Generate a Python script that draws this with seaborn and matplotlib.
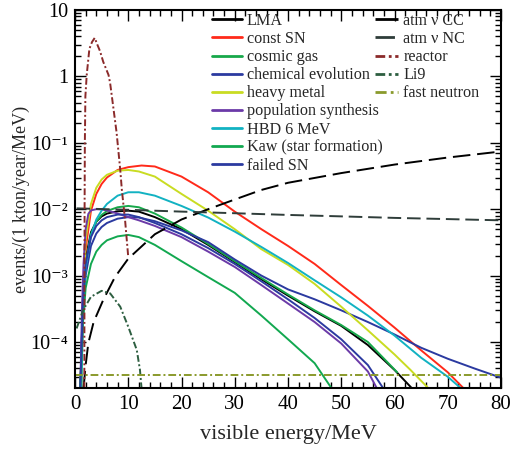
import numpy as np
import pandas as pd
import matplotlib
matplotlib.use("Agg")
import matplotlib.pyplot as plt
from matplotlib.ticker import FixedLocator, FixedFormatter, MultipleLocator, LogLocator, NullFormatter
from matplotlib.lines import Line2D
import seaborn as sns

# ---------------- data ----------------
E_lma = [1.0, 1.5, 2, 3, 4, 5, 6, 8, 10, 12, 15, 20, 25, 30, 35, 40, 45, 50, 55, 60, 63.3]
lma = [2e-5, 5e-4, 1.8e-3, 4.5e-3, 6.5e-3, 7.8e-3, 8.6e-3, 9.3e-3, 9.5e-3, 9.2e-3, 7.6e-3, 5.0e-3,
       2.9e-3, 1.6e-3, 8.8e-4, 5.0e-4, 2.9e-4, 1.75e-4, 9.0e-5, 3.8e-5, 2e-5]

E_const = [1.2, 1.5, 2, 3, 4, 5, 6, 8, 10, 12.5, 15, 20, 25, 30, 35, 40, 45, 50, 55, 60, 65, 70, 73.0]
const_sn = [2e-5, 4e-4, 2.5e-3, 9.5e-3, 1.7e-2, 2.4e-2, 3.0e-2, 3.9e-2, 4.3e-2, 4.55e-2, 4.4e-2, 3.1e-2,
            1.8e-2, 9.2e-3, 5.0e-3, 2.8e-3, 1.5e-3, 7.2e-4, 3.5e-4, 1.65e-4, 7.5e-5, 3.5e-5, 2e-5]

E_cosmic = [1.0, 1.5, 2, 3, 4, 5, 6, 8, 10, 12, 15, 20, 25, 30, 35, 40, 45, 50, 55, 60.5]
cosmic_gas = [2e-5, 4e-4, 1.5e-3, 4.2e-3, 6.5e-3, 8.2e-3, 9.4e-3, 1.07e-2, 1.12e-2, 1.07e-2, 8.6e-3,
              5.3e-3, 3.0e-3, 1.65e-3, 9.2e-4, 5.2e-4, 3.0e-4, 1.8e-4, 1.0e-4, 3.5e-5]

E_chem = [1.0, 1.5, 2, 3, 4, 5, 6, 8, 10, 12, 15, 20, 25, 30, 35, 40, 45, 50, 55, 60, 65, 70, 75, 80]
chem_evol = [2e-5, 2.5e-4, 1.0e-3, 2.8e-3, 4.3e-3, 5.4e-3, 6.2e-3, 7.2e-3, 7.6e-3, 7.5e-3, 6.6e-3,
             4.8e-3, 3.2e-3, 1.75e-3, 1.0e-3, 6.2e-4, 4.4e-4, 3.0e-4, 2.0e-4, 1.3e-4, 8.2e-5,
             5.6e-5, 4.0e-5, 2.9e-5]

E_heavy = [1.2, 1.5, 2, 3, 4, 5, 6, 8, 10, 12, 15, 20, 25, 30, 35, 40, 45, 50, 55, 60, 63, 66.4]
heavy_metal = [2e-5, 5e-4, 3.5e-3, 1.2e-2, 2.1e-2, 2.8e-2, 3.3e-2, 3.8e-2, 3.9e-2, 3.7e-2, 3.1e-2,
               1.7e-2, 9.5e-3, 5.0e-3, 2.5e-3, 1.45e-3, 7.5e-4, 3.4e-4, 1.5e-4, 6.5e-5, 3.8e-5, 2e-5]

E_pop = [1.0, 1.3, 1.6, 2.0, 2.5, 3, 4, 5, 6, 8, 10, 12, 15, 20, 25, 30, 35, 40, 45, 50, 55, 56.7]
pop_synth = [2e-5, 3e-4, 1.5e-3, 5e-3, 8.5e-3, 9.6e-3, 1.0e-2, 9.9e-3, 9.6e-3, 8.6e-3, 7.6e-3, 6.8e-3,
             5.6e-3, 3.8e-3, 2.3e-3, 1.35e-3, 7.2e-4, 3.8e-4, 2.0e-4, 9.5e-5, 3.6e-5, 2e-5]

E_hbd = [1.2, 1.5, 2, 3, 4, 5, 6, 8, 10, 12, 15, 20, 25, 30, 35, 40, 45, 50, 55, 60, 65, 70, 72.5]
hbd6 = [2e-5, 2.5e-4, 1.3e-3, 4.0e-3, 7e-3, 9.5e-3, 1.2e-2, 1.6e-2, 1.8e-2, 1.8e-2, 1.6e-2, 1.12e-2,
        7.5e-3, 4.6e-3, 2.7e-3, 1.55e-3, 8.5e-4, 4.7e-4, 2.5e-4, 1.25e-4, 5.8e-5, 3.0e-5, 2e-5]

E_kaw = [1.0, 1.5, 2, 3, 4, 5, 6, 8, 10, 12, 15, 20, 25, 30, 35, 40, 45, 48.2]
kaw = [2e-5, 2e-4, 6.5e-4, 1.5e-3, 2.3e-3, 2.9e-3, 3.4e-3, 3.9e-3, 4.1e-3, 3.8e-3, 2.9e-3, 1.65e-3,
       9.5e-4, 5.5e-4, 2.5e-4, 1.1e-4, 4.8e-5, 2e-5]

E_failed = [1.0, 1.5, 2, 3, 4, 5, 6, 8, 10, 12, 15, 20, 25, 30, 35, 40, 45, 50, 55, 57.9]
failed_sn = [2e-5, 4e-4, 1.5e-3, 3.8e-3, 5.6e-3, 6.8e-3, 7.6e-3, 8.3e-3, 8.3e-3, 7.6e-3, 6.2e-3,
             4.2e-3, 2.6e-3, 1.5e-3, 8.2e-4, 4.4e-4, 2.3e-4, 1.1e-4, 4.5e-5, 2e-5]

E_cc = [1.6, 2.0, 2.5, 3.5, 5.3, 7.5, 10, 15, 20, 25, 30, 35, 40, 50, 60, 70, 80]
atm_cc = [2e-5, 4.5e-5, 9.6e-5, 2.0e-4, 4.3e-4, 9.5e-4, 1.8e-3, 4.2e-3, 7.0e-3, 1.0e-2, 1.4e-2,
          1.95e-2, 2.5e-2, 3.5e-2, 4.7e-2, 6.0e-2, 7.4e-2]

E_nc = [0.3, 10, 20, 30, 40, 50, 60, 70, 80]
atm_nc = [1.03e-2, 9.8e-3, 9.2e-3, 8.7e-3, 8.2e-3, 7.8e-3, 7.4e-3, 7.1e-3, 6.8e-3]

E_reac = [1.75, 1.8, 1.85, 1.95, 2.2, 2.7, 3.2, 3.7, 4.2, 4.7, 5.3, 6.3, 6.6, 7.8, 8.5, 8.8, 9.4, 10.0]
reactor = [2e-5, 1e-2, 1e-1, 5e-1, 1.05, 2.6, 3.3, 3.8, 3.0, 2.4, 1.66, 1.05, 0.79, 0.145, 0.039,
           0.0195, 0.0069, 0.0019]

E_li9 = [0.3, 1.5, 3, 5, 6.6, 8.5, 10, 11.6, 12.2, 12.5]
li9 = [1.6e-4, 3.0e-4, 4.8e-4, 5.9e-4, 5.4e-4, 3.4e-4, 1.7e-4, 7.6e-5, 3.8e-5, 2e-5]

E_fast = [0, 80]
fast_neutron = [3.2e-5, 3.2e-5]

ytick_vals = [1e-4, 1e-3, 1e-2, 1e-1, 1, 10]
ytick_labels = ["10⁻⁴", "10⁻³", "10⁻²", "10⁻¹", "1", "10"]

# ---------------- style ----------------
sns.set_style("ticks")
plt.rcParams["font.family"] = ["Liberation Serif", "DejaVu Serif"]
plt.rcParams["mathtext.fontset"] = "stix"

fig = plt.figure(figsize=(5.13, 4.49), dpi=100)
ax = fig.add_axes([75 / 513, 1 - 388 / 449, (501 - 75) / 513, (388 - 10) / 449])

signal = [
    ("LMA", E_lma, lma, "#000000"),
    ("const SN", E_const, const_sn, "#ff2a1a"),
    ("cosmic gas", E_cosmic, cosmic_gas, "#17a84a"),
    ("chemical evolution", E_chem, chem_evol, "#2b3aa0"),
    ("heavy metal", E_heavy, heavy_metal, "#c9dc22"),
    ("population synthesis", E_pop, pop_synth, "#6b3aa8"),
    ("HBD 6 MeV", E_hbd, hbd6, "#12b2c2"),
    ("Kaw (star formation)", E_kaw, kaw, "#12a850"),
    ("failed SN", E_failed, failed_sn, "#2b3aa0"),
]
background = [
    ("atm ν CC", E_cc, atm_cc, "#000000", (0, (9, 3.5))),
    ("atm ν NC", E_nc, atm_nc, "#2f3d3a", (0, (7, 3))),
    ("reactor", E_reac, reactor, "#8b2a2a", (0, (3.5, 1.3, 1, 1.3))),
    ("Li9", E_li9, li9, "#2d5e40", (0, (3.5, 1.3, 1, 1.3))),
    ("fast neutron", E_fast, fast_neutron, "#8a9a2c", (0, (4, 1.5, 1, 1.5))),
]

lw = 1.4
for name, xs, ys, col in signal:
    sns.lineplot(x=xs, y=ys, ax=ax, color=col, linewidth=lw, sort=False, estimator=None)
for name, xs, ys, col, ls in background:
    sns.lineplot(x=xs, y=ys, ax=ax, color=col, linewidth=lw, linestyle=ls, sort=False, estimator=None)

ax.set_yscale("log")
ax.set_xlim(0, 80)
ax.set_ylim(2.03e-5, 10)

ax.yaxis.set_major_locator(FixedLocator(ytick_vals))
ax.yaxis.set_major_formatter(FixedFormatter(ytick_labels))
ax.yaxis.set_minor_locator(LogLocator(base=10, subs=np.arange(2, 10), numticks=20))
ax.yaxis.set_minor_formatter(NullFormatter())
ax.xaxis.set_major_locator(MultipleLocator(10))
ax.xaxis.set_minor_locator(MultipleLocator(2))

ax.tick_params(which="both", direction="in", top=True, right=True, colors="black", width=1.0)
ax.tick_params(which="major", length=8, labelsize=15, pad=5)
ax.tick_params(axis="y", which="major", labelsize=14.5)
ax.tick_params(which="minor", length=4)
for s in ax.spines.values():
    s.set_linewidth(1.5)
    s.set_color("black")

ax.set_xlabel("visible energy/MeV", fontsize=16, labelpad=8)
ax.set_ylabel("events/(1 kton/year/MeV)", fontsize=13)
ax.yaxis.set_label_coords(-0.105, 0.5)

h1 = [Line2D([], [], color=c, lw=2) for _, _, _, c in signal]
l1 = [n for n, _, _, _ in signal]
h2 = [Line2D([], [], color=c, lw=2, linestyle=ls) for _, _, _, c, ls in background]
l2 = [n for n, _, _, _, _ in background]

leg_kw = dict(frameon=False, fontsize=11.6, handletextpad=0.3,
              labelspacing=0.13, borderaxespad=0, borderpad=0)
leg1 = ax.legend(h1, l1, loc="upper left", bbox_to_anchor=((212 - 75) / 426, 1 - 3 / 378),
                 handlelength=1.85, **leg_kw)
ax.add_artist(leg1)
ax.legend(h2, l2, loc="upper left", bbox_to_anchor=((375 - 75) / 426, 1 - 3 / 378),
          handlelength=1.45, **leg_kw)

fig.savefig("out.png", dpi=100)
